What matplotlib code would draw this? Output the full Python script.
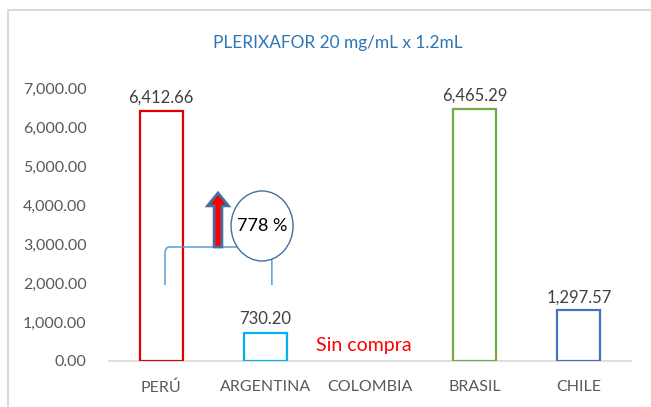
import matplotlib
matplotlib.use("Agg")
import matplotlib.pyplot as plt
from matplotlib.patches import Ellipse, FancyArrow, Rectangle
from matplotlib.path import Path
from matplotlib.patches import PathPatch

categories = ["PERÚ", "ARGENTINA", "COLOMBIA", "BRASIL", "CHILE"]
values = [6412.66, 730.20, 0.0, 6465.29, 1297.57]
labels = ["6,412.66", "730.20", "", "6,465.29", "1,297.57"]
edge_colors = ["#E00000", "#00B0F0", "none", "#70AD47", "#4472C4"]
yticks = [0, 1000, 2000, 3000, 4000, 5000, 6000, 7000]
title = "PLERIXAFOR 20 mg/mL x 1.2mL"
pct_text = "778 %"
no_buy = "Sin compra"

plt.rcParams['font.family'] = ['Lato', 'DejaVu Sans']

fig = plt.figure(figsize=(6.51, 4.07), dpi=100)
ax = fig.add_axes([109/651, 1-361/407, 522/651, 273/407])

x = list(range(len(categories)))
for i, (v, c) in enumerate(zip(values, edge_colors)):
    if v > 0:
        ax.bar(i, v, width=0.41, facecolor="white", edgecolor=c, linewidth=1.6, zorder=3)
        ax.text(i, v + 130, labels[i], ha="center", va="bottom", fontsize=12, color="#404040")

ax.set_xlim(-0.5, 4.5)
ax.set_ylim(0, 7000)
ax.set_yticks(yticks)
ax.set_yticklabels([f"{t:,.2f}" for t in yticks], fontsize=11.5, color="#595959")
ax.set_xticks(x)
ax.set_xticklabels(categories, fontsize=11.5, color="#595959")
ax.tick_params(axis='x', length=0, pad=14)
ax.tick_params(axis='y', length=0, pad=16)
for s in ["top", "right", "left"]:
    ax.spines[s].set_visible(False)
ax.spines["bottom"].set_color("#D9D9D9")
ax.spines["bottom"].set_linewidth(1.2)

fig.text(338/651, 1-43/407, title, ha="center", va="center", fontsize=12.4, color="#2E75B6")

# bracket
xl, xr, yt, yb = 0.036, 1.06, 2923, 1949
r = 0.04
verts = [(xl, yb), (xl, yt - 200), (xl, yt), (xl + r, yt), (xr - r, yt), (xr, yt), (xr, yt - 200), (xr, yb)]
codes = [Path.MOVETO, Path.LINETO, Path.CURVE3, Path.CURVE3, Path.LINETO, Path.CURVE3, Path.CURVE3, Path.LINETO]
ax.add_patch(PathPatch(Path(verts, codes), facecolor="none", edgecolor="#5B9BD5", linewidth=1.1, zorder=4))

# arrow
ax.add_patch(FancyArrow(0.544, 2923, 0, 1385, width=0.075, head_width=0.2, head_length=330,
                        length_includes_head=True, facecolor="#FF0000", edgecolor="#41719C",
                        linewidth=2.0, zorder=5))

# ellipse
ax.add_patch(Ellipse((0.966, 3462), 0.594, 1795, facecolor="white", edgecolor="#41719C", linewidth=1.0, zorder=5))
ax.text(0.966, 3462, pct_text, ha="center", va="center", fontsize=13, color="black", zorder=6)

ax.text(1.94, 385, no_buy, ha="center", va="center", fontsize=14, color="#FF0000")

# outer frame
fig.add_artist(Rectangle((8/651, -0.01), 1.0, 1 - 10/407 + 0.01, transform=fig.transFigure,
                         facecolor="none", edgecolor="#D9D9D9", linewidth=1.5))

fig.savefig("out.png", dpi=100)
